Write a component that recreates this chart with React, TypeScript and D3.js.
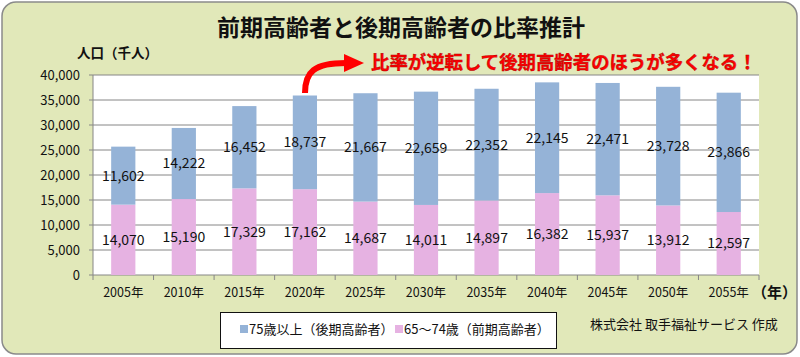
import React from "react";
import * as d3 from "d3";

const years = ["2005年", "2010年", "2015年", "2020年", "2025年", "2030年", "2035年", "2040年", "2045年", "2050年", "2055年"];
const early = [14070, 15190, 17329, 17162, 14687, 14011, 14897, 16382, 15937, 13912, 12597];
const late = [11602, 14222, 16452, 18737, 21667, 22659, 22352, 22145, 22471, 23728, 23866];
const yTicks = [0, 5000, 10000, 15000, 20000, 25000, 30000, 35000, 40000];

const title = "前期高齢者と後期高齢者の比率推計";
const yTitle = "人口（千人）";
const note = "比率が逆転して後期高齢者のほうが多くなる！";
const legendLate = "75歳以上（後期高齢者）";
const legendEarly = "65～74歳（前期高齢者）";
const credit = "株式会社 取手福祉サービス 作成";

const BLUE = "#95b3d7";
const PINK = "#e6b2e2";
const BG = "#e1e8b9";
const FONT = "'Noto Sans CJK JP', 'Noto Sans', sans-serif";

export default function App() {
  const W = 800, H = 357;
  const left = 93, right = 759, top = 75, bottom = 275;
  const x = d3.scaleBand<string>().domain(years).range([left, right]).paddingInner(0.6).paddingOuter(0.3);
  const band = d3.scaleBand<string>().domain(years).range([left, right]);
  const y = d3.scaleLinear().domain([0, 40000]).range([bottom, top]);
  const fmt = d3.format(",");

  return (
    <svg width={W} height={H} style={{ position: "absolute", left: 0, top: 0 }} fontFamily={FONT}>
      <rect x={2} y={2} width={795} height={352} rx={14} ry={14} fill={BG} stroke="#8a8a8a" strokeWidth={1.5} />
      <text x={401} y={36} textAnchor="middle" fontSize={23} fontWeight="bold" fill="#111">{title}</text>
      <text x={77} y={58} fontSize={13.5} fontWeight="bold" fill="#111">{yTitle}</text>

      <rect x={left} y={top} width={right - left} height={bottom - top} fill="#fff" />
      {yTicks.map((t) => (
        <g key={t}>
          <line x1={left - 4} x2={t === 0 ? left : right} y1={y(t)} y2={y(t)} stroke="#868686" strokeWidth={1} />
          <text x={80} y={y(t)} dy="0.35em" textAnchor="end" fontSize={13} fill="#111">{fmt(t)}</text>
        </g>
      ))}
      <line x1={left} x2={left} y1={top} y2={bottom} stroke="#868686" />
      <line x1={left} x2={right} y1={bottom} y2={bottom} stroke="#868686" />
      {years.map((yr, i) => (
        <line key={"t" + i} x1={band(yr)!} x2={band(yr)!} y1={bottom} y2={bottom + 5} stroke="#868686" />
      ))}
      <line x1={right} x2={right} y1={bottom} y2={bottom + 5} stroke="#868686" />

      {years.map((yr, i) => {
        const bx = x(yr)!;
        const bw = x.bandwidth();
        const cx = bx + bw / 2;
        const e = early[i];
        const l = late[i];
        return (
          <g key={yr}>
            <rect x={bx} y={y(e)} width={bw} height={y(0) - y(e)} fill={PINK} />
            <rect x={bx} y={y(e + l)} width={bw} height={y(e) - y(e + l)} fill={BLUE} />
            <text x={cx} y={(y(0) + y(e)) / 2} dy="0.35em" textAnchor="middle" fontSize={14} fill="#111">{fmt(e)}</text>
            <text x={cx} y={(y(e) + y(e + l)) / 2} dy="0.35em" textAnchor="middle" fontSize={14} fill="#111">{fmt(l)}</text>
            <text x={band(yr)! + band.bandwidth() / 2} y={293} dy="0.35em" textAnchor="middle" fontSize={12.5} fill="#111">{yr}</text>
          </g>
        );
      })}
      <text x={752} y={293} dy="0.35em" fontSize={15} fontWeight="bold" fill="#111">（年）</text>

      <path d="M305,93 C305,72 314,63 346,63" fill="none" stroke="#ff0000" strokeWidth={6} />
      <polygon points="344,54 364,63 344,72" fill="#ff0000" />
      <text x={371} y={69} fontSize={18.4} fontWeight="bold" fill="#ff0000" stroke="#b00000" strokeWidth={0.4}>{note}</text>

      <rect x={220.5} y={312.5} width={336} height={36} fill="#fff" stroke="#111" strokeWidth={1} />
      <rect x={240} y={325} width={8} height={8} fill={BLUE} />
      <text x={249} y={329} dy="0.35em" fontSize={13} fill="#111">{legendLate}</text>
      <rect x={395} y={325} width={8} height={8} fill={PINK} />
      <text x={404} y={329} dy="0.35em" fontSize={13} fill="#111">{legendEarly}</text>
      <text x={590} y={324} dy="0.35em" fontSize={13} fill="#111">{credit}</text>
    </svg>
  );
}
